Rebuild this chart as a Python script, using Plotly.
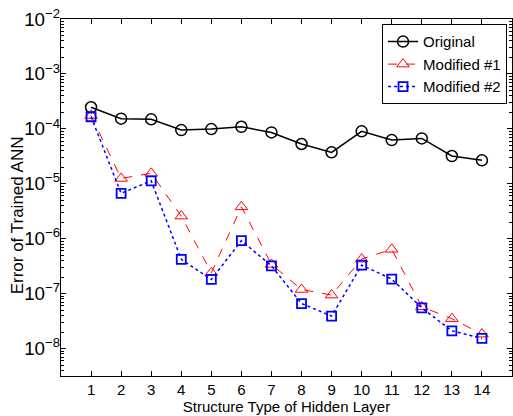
import math
import plotly.graph_objects as go

# Structure types of the hidden layer (x axis)
structure_types = list(range(1, 15))

# Training error of each network variant
err_original = [2.47e-4, 1.53e-4, 1.49e-4, 9.5e-5, 9.9e-5, 1.09e-4, 8.6e-5,
                5.3e-5, 3.73e-5, 9.0e-5, 6.25e-5, 6.7e-5, 3.2e-5, 2.67e-5]
err_modified_1 = [1.75e-4, 1.25e-5, 1.55e-5, 2.58e-6, 2.4e-7, 3.8e-6, 3.4e-7,
                  1.19e-7, 9.4e-8, 4.25e-7, 6.4e-7, 5.75e-8, 3.5e-8, 1.83e-8]
err_modified_2 = [1.66e-4, 6.7e-6, 1.13e-5, 4.2e-7, 1.81e-7, 9.2e-7, 3.2e-7,
                  6.6e-8, 3.9e-8, 3.3e-7, 1.84e-7, 5.5e-8, 2.1e-8, 1.53e-8]

series_names = ["Original", "Modified #1", "Modified #2"]

# Log axis extent (decades) and the minor tick positions inside it
log_range = [-8.5, -2]
minor_ticks = [m * 10.0 ** d for d in range(-9, -2) for m in range(2, 10)
               if log_range[0] <= d + math.log10(m) <= log_range[1]]

FONT = "Arial, Liberation Sans, sans-serif"

fig = go.Figure()

fig.add_trace(go.Scatter(
    x=structure_types, y=err_original, name=series_names[0],
    mode="lines+markers",
    line=dict(color="black", width=1.5),
    marker=dict(symbol="circle-open", size=11, color="black",
                line=dict(width=1.5, color="black")),
))
fig.add_trace(go.Scatter(
    x=structure_types, y=err_modified_1, name=series_names[1],
    mode="lines+markers",
    line=dict(color="#ff0000", width=1, dash="dash"),
    marker=dict(symbol="triangle-up-open", size=11, color="#ff0000",
                line=dict(width=1, color="#ff0000")),
))
fig.add_trace(go.Scatter(
    x=structure_types, y=err_modified_2, name=series_names[2],
    mode="lines+markers",
    line=dict(color="#0000ff", width=1.5, dash="dot"),
    marker=dict(symbol="square-open", size=9, color="#0000ff",
                line=dict(width=1.8, color="#0000ff")),
))
# empty trace so the minor-tick overlay axis gets drawn
fig.add_trace(go.Scatter(x=[None], y=[None], yaxis="y2", mode="markers",
                         showlegend=False, hoverinfo="skip"))

fig.update_layout(
    width=513, height=416,
    margin=dict(l=61, r=1, t=19, b=40),
    paper_bgcolor="white", plot_bgcolor="white",
    font=dict(family=FONT, size=14, color="black"),
    showlegend=True,
    legend=dict(
        x=0.989, y=0.985, xanchor="right", yanchor="top",
        bgcolor="white", bordercolor="black", borderwidth=1,
        font=dict(family=FONT, size=15, color="black"),
        tracegroupgap=0, itemwidth=30,
    ),
    annotations=[dict(
        text="Error of Trained ANN", textangle=-90,
        xref="paper", yref="paper", x=0, y=0.45,
        xanchor="center", yanchor="middle", xshift=-44, showarrow=False,
        font=dict(family=FONT, size=17, color="black"),
    )],
    yaxis=dict(
        type="log", range=log_range,
        dtick=1, exponentformat="power", showexponent="all",
        ticks="inside", ticklen=5, tickcolor="black",
        ticklabelstandoff=-3,
        showline=True, linecolor="black", linewidth=1, mirror="ticks",
        showgrid=False, zeroline=False,
        tickfont=dict(family=FONT, size=15, color="black"),
    ),
    # overlay axis carrying only the short minor ticks of the log scale
    yaxis2=dict(
        type="log", range=log_range, overlaying="y", anchor="x", side="left",
        tickmode="array", tickvals=minor_ticks, showticklabels=False,
        ticks="inside", ticklen=3, tickcolor="black",
        showline=True, linecolor="black", linewidth=1, mirror="ticks",
        showgrid=False, zeroline=False, fixedrange=True,
    ),
)

fig.update_xaxes(
    range=[0, 15],
    tickmode="array", tickvals=structure_types,
    ticks="inside", ticklen=5, tickcolor="black",
    showline=True, linecolor="black", linewidth=1, mirror="ticks",
    showgrid=False, zeroline=False,
    tickfont=dict(family=FONT, size=15, color="black"),
    title=dict(text="Structure Type of Hidden Layer",
               font=dict(family=FONT, size=15, color="black"), standoff=0),
)

fig.write_html("out.html")
